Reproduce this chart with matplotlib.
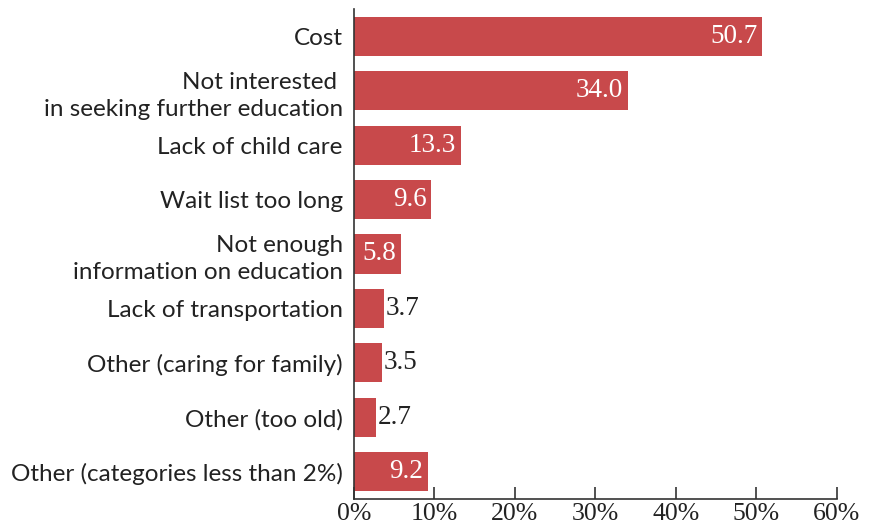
import matplotlib.pyplot as plt

categories = [
    "Cost",
    "Not interested \nin seeking further education",
    "Lack of child care",
    "Wait list too long",
    "Not enough\ninformation on education",
    "Lack of transportation",
    "Other (caring for family)",
    "Other (too old)",
    "Other (categories less than 2%)",
]
values = [50.7, 34.0, 13.3, 9.6, 5.8, 3.7, 3.5, 2.7, 9.2]
xticks = [0, 10, 20, 30, 40, 50, 60]

bar_color = "#c8494b"
label_font = "Lato"
num_font = "Liberation Serif"

fig = plt.figure(figsize=(8.86, 5.29), dpi=100)
ax = fig.add_axes([0.3995, 0.0567, 0.545, 0.9263])

y = range(len(categories))
ax.barh(y, values, height=0.72, color=bar_color)

# values: white inside bars that are wide enough, black just past the short ones
for i, v in enumerate(values):
    if v >= 5:
        ax.text(v - 0.6, i, f"{v:.1f}", ha="right", va="center", color="white",
                fontsize=19.5, family=num_font)
    else:
        ax.text(v + 0.2, i, f"{v:.1f}", ha="left", va="center", color="#222222",
                fontsize=19.5, family=num_font)

ax.set_ylim(len(categories) - 0.5, -0.5)
ax.set_xlim(0, 60)
ax.set_yticks(list(y))
ax.set_yticklabels(categories, fontsize=17.5, family=label_font, color="#222222",
                   ha="right", linespacing=1.35)
ax.tick_params(axis="y", length=0, pad=8)

ax.set_xticks(xticks)
ax.set_xticklabels([f"{t}%" for t in xticks], fontsize=18.5, family=num_font,
                   color="#222222")
ax.tick_params(axis="x", direction="in", length=9, width=1.2, color="#333333", pad=3)

for s in ["top", "right"]:
    ax.spines[s].set_visible(False)
for s in ["left", "bottom"]:
    ax.spines[s].set_color("#333333")
    ax.spines[s].set_linewidth(1.2)

fig.savefig("out.png", dpi=100)
